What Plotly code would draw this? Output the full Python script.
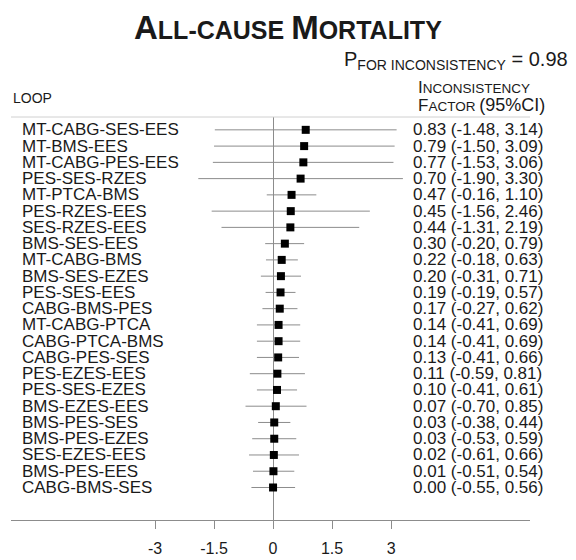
import plotly.graph_objects as go

loops = ["MT-CABG-SES-EES", "MT-BMS-EES", "MT-CABG-PES-EES", "PES-SES-RZES", "MT-PTCA-BMS",
         "PES-RZES-EES", "SES-RZES-EES", "BMS-SES-EES", "MT-CABG-BMS", "BMS-SES-EZES",
         "PES-SES-EES", "CABG-BMS-PES", "MT-CABG-PTCA", "CABG-PTCA-BMS", "CABG-PES-SES",
         "PES-EZES-EES", "PES-SES-EZES", "BMS-EZES-EES", "BMS-PES-SES", "BMS-PES-EZES",
         "SES-EZES-EES", "BMS-PES-EES", "CABG-BMS-SES"]
factor = [0.83, 0.79, 0.77, 0.70, 0.47, 0.45, 0.44, 0.30, 0.22, 0.20, 0.19, 0.17, 0.14, 0.14,
          0.13, 0.11, 0.10, 0.07, 0.03, 0.03, 0.02, 0.01, 0.00]
lower = [-1.48, -1.50, -1.53, -1.90, -0.16, -1.56, -1.31, -0.20, -0.18, -0.31, -0.19, -0.27,
         -0.41, -0.41, -0.41, -0.59, -0.41, -0.70, -0.38, -0.53, -0.61, -0.51, -0.55]
upper = [3.14, 3.09, 3.06, 3.30, 1.10, 2.46, 2.19, 0.79, 0.63, 0.71, 0.57, 0.62, 0.69, 0.69,
         0.66, 0.81, 0.61, 0.85, 0.44, 0.59, 0.66, 0.54, 0.56]
tick_vals = [-3, -1.5, 0, 1.5, 3]
tick_text = ["-3", "-1.5", "0", "1.5", "3"]
p_value = "0.98"

FONT = "Arial, Liberation Sans, sans-serif"
TXT = "#1a1a1a"
LINE = "#8c8c8c"

# page body has an 8px margin: screen px -> plot-paper coordinates
def px(x):
    return (x - 11) / 519

def py(y):
    return (526 - y) / 409

rows = list(range(len(loops)))

fig = go.Figure()
fig.add_trace(go.Scatter(
    x=factor, y=rows, mode="markers",
    marker=dict(symbol="square", size=8, color="black"),
    error_x=dict(type="data", symmetric=False,
                 array=[u - f for u, f in zip(upper, factor)],
                 arrayminus=[f - l for f, l in zip(factor, lower)],
                 color=LINE, thickness=1, width=0),
    hoverinfo="skip", showlegend=False,
))

ann = []
for i, name in enumerate(loops):
    ann.append(dict(x=px(20), y=i, xref="paper", yref="y", text=name, showarrow=False,
                    xanchor="left", yanchor="middle", font=dict(family=FONT, size=17, color=TXT)))
    ann.append(dict(x=px(411), y=i, xref="paper", yref="y",
                    text=f"{factor[i]:.2f} ({lower[i]:.2f}, {upper[i]:.2f})", showarrow=False,
                    xanchor="left", yanchor="middle", font=dict(family=FONT, size=17, color=TXT)))

ann.append(dict(x=px(288), y=py(26), xref="paper", yref="paper",
                text="<b>A<span style='font-size:25px'>LL-CAUSE </span>M<span style='font-size:25px'>ORTALITY</span></b>",
                showarrow=False, xanchor="center", yanchor="middle",
                font=dict(family=FONT, size=33, color=TXT)))
ann.append(dict(x=px(342), y=py(60), xref="paper", yref="paper",
                text=f"P<sub>FOR INCONSISTENCY</sub> = {p_value}",
                showarrow=False, xanchor="left", yanchor="middle",
                font=dict(family=FONT, size=20, color=TXT)))
ann.append(dict(x=px(11), y=py(98), xref="paper", yref="paper",
                text="LOOP", showarrow=False, xanchor="left", yanchor="middle",
                font=dict(family=FONT, size=14, color=TXT)))
ann.append(dict(x=px(416), y=py(87), xref="paper", yref="paper",
                text="<span style='font-size:17px'>I</span>NCONSISTENCY", showarrow=False,
                xanchor="left", yanchor="middle", font=dict(family=FONT, size=13.5, color=TXT)))
ann.append(dict(x=px(416), y=py(105), xref="paper", yref="paper",
                text="<span style='font-size:17px'>F</span>ACTOR <span style='font-size:18px'>(95%CI)</span>",
                showarrow=False, xanchor="left", yanchor="middle",
                font=dict(family=FONT, size=13.5, color=TXT)))

fig.update_layout(
    width=568, height=552,
    margin=dict(l=3, r=46, t=109, b=34),
    paper_bgcolor="white", plot_bgcolor="white",
    annotations=ann,
    shapes=[dict(type="line", xref="paper", yref="paper", x0=0, x1=1, y0=1, y1=1,
                 line=dict(color="#d0d0d0", width=1))],
    xaxis=dict(range=[-6.66, 6.53], tickvals=tick_vals, ticktext=tick_text,
               showgrid=False, zeroline=True, zerolinecolor=LINE, zerolinewidth=1,
               showline=True, linecolor=LINE, linewidth=1, ticks="outside", ticklen=8,
               tickcolor=LINE, ticklabelstandoff=6,
               tickfont=dict(family=FONT, size=16, color=TXT)),
    yaxis=dict(range=[24.0, -0.79], visible=False),
)

fig.write_html("out.html")
